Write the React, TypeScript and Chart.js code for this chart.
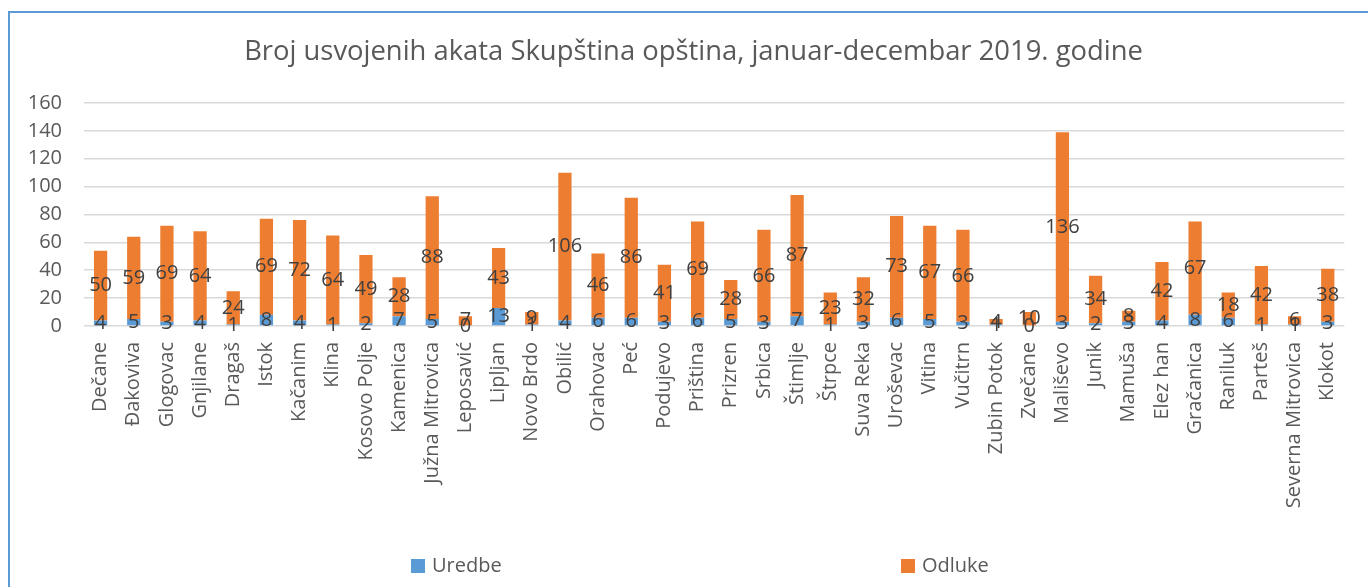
import React, { useEffect, useRef } from "react";
import { Chart, registerables } from "chart.js";

Chart.register(...registerables);

const categories = [
  "Dečane", "Đakoviva", "Glogovac", "Gnjilane", "Dragaš", "Istok", "Kačanim", "Klina",
  "Kosovo Polje", "Kamenica", "Južna Mitrovica", "Leposavić", "Lipljan", "Novo Brdo",
  "Obilić", "Orahovac", "Peć", "Podujevo", "Priština", "Prizren", "Srbica", "Štimlje",
  "Štrpce", "Suva Reka", "Uroševac", "Vitina", "Vučitrn", "Zubin Potok", "Zvečane",
  "Mališevo", "Junik", "Mamuša", "Elez han", "Gračanica", "Raniluk", "Parteš",
  "Severna Mitrovica", "Klokot",
];

const uredbe = [
  4, 5, 3, 4, 1, 8, 4, 1, 2, 7, 5, 0, 13, 1, 4, 6, 6, 3, 6, 5, 3, 7, 1, 3, 6, 5, 3, 1, 0,
  3, 2, 3, 4, 8, 6, 1, 1, 3,
];

const odluke = [
  50, 59, 69, 64, 24, 69, 72, 64, 49, 28, 88, 7, 43, 9, 106, 46, 86, 41, 69, 28, 66, 87,
  23, 32, 73, 67, 66, 4, 10, 136, 34, 8, 42, 67, 18, 42, 6, 38,
];

const yTickValues = [0, 20, 40, 60, 80, 100, 120, 140, 160];

const titleText = "Broj usvojenih akata Skupština opština, januar-decembar 2019. godine";
const seriesNames = ["Uredbe", "Odluke"];
const seriesColors = ["#5B9BD5", "#ED7D31"];

const FONT = "'Open Sans', 'Noto Sans', sans-serif";

const valueLabels = {
  id: "valueLabels",
  afterDatasetsDraw(chart: any) {
    const ctx = chart.ctx;
    ctx.save();
    ctx.font = `20px ${FONT}`;
    ctx.fillStyle = "#404040";
    ctx.textAlign = "center";
    ctx.textBaseline = "middle";
    chart.data.datasets.forEach((ds: any, di: number) => {
      const meta = chart.getDatasetMeta(di);
      if (meta.hidden || meta.yAxisID !== "y") return;
      meta.data.forEach((el: any, i: number) => {
        const yc = (el.y + el.base) / 2;
        ctx.fillText(String(ds.data[i]), el.x, yc);
      });
    });
    ctx.restore();
  },
};

const customLegend = {
  id: "customLegend",
  afterDraw(chart: any) {
    const ctx = chart.ctx;
    const starts = [411, 901];
    const yc = 566;
    ctx.save();
    ctx.font = `20px ${FONT}`;
    ctx.textBaseline = "middle";
    ctx.textAlign = "left";
    chart.data.datasets.forEach((ds: any, i: number) => {
      const x = starts[i];
      ctx.fillStyle = ds.backgroundColor;
      ctx.fillRect(x, yc - 7, 14, 14);
      ctx.fillStyle = "#595959";
      ctx.fillText(ds.label, x + 21, yc);
    });
    ctx.restore();
  },
};

export default function App() {
  const ref = useRef<HTMLCanvasElement | null>(null);

  useEffect(() => {
    if (!ref.current) return;
    const chart = new Chart(ref.current, {
      type: "bar",
      data: {
        labels: categories,
        datasets: [
          {
            label: seriesNames[0],
            data: uredbe,
            backgroundColor: seriesColors[0],
            barPercentage: 0.4,
            categoryPercentage: 1,
          },
          {
            label: seriesNames[1],
            data: odluke,
            backgroundColor: seriesColors[1],
            barPercentage: 0.4,
            categoryPercentage: 1,
          },
        ],
      },
      options: {
        animation: false,
        responsive: true,
        maintainAspectRatio: false,
        layout: { padding: { left: 19, right: 0, top: 0, bottom: 0 } },
        plugins: {
          legend: { display: false },
          tooltip: { enabled: false },
          title: {
            display: true,
            text: titleText,
            color: "#595959",
            font: { family: FONT, size: 27.4, weight: "normal" as any },
            padding: { top: 36.1, bottom: 34 },
          },
        },
        scales: {
          x: {
            stacked: true,
            grid: { display: false, drawTicks: false, tickLength: 0 },
            border: { display: false },
            ticks: {
              color: "#595959",
              font: { family: FONT, size: 20 },
              minRotation: 90,
              maxRotation: 90,
              autoSkip: false,
              padding: 16,
            },
            afterFit(scale: any) {
              scale.height = 261;
            },
          },
          y: {
            stacked: true,
            min: 0,
            max: 160,
            afterBuildTicks(scale: any) {
              scale.ticks = yTickValues.map((v) => ({ value: v }));
            },
            grid: { color: "#D9D9D9", lineWidth: 1.5, drawTicks: false, tickLength: 0 },
            border: { display: false },
            ticks: {
              color: "#595959",
              font: { family: FONT, size: 20 },
              padding: 22,
            },
            afterFit(scale: any) {
              scale.width = 65;
            },
          },
          yRight: {
            position: "right",
            display: true,
            grid: { display: false, drawTicks: false },
            border: { display: false },
            ticks: { display: false },
            afterFit(scale: any) {
              scale.width = 18;
            },
          },
        },
      },
      plugins: [valueLabels, customLegend],
    });
    return () => chart.destroy();
  }, []);

  return (
    <div
      style={{
        position: "absolute",
        left: 0,
        top: 0,
        width: 1368,
        height: 587,
        overflow: "hidden",
        background: "#fff",
      }}
    >
      <div
        style={{
          position: "absolute",
          left: 8,
          top: 11,
          width: 1360,
          height: 576,
          boxSizing: "border-box",
          borderLeft: "2px solid #5B9BD5",
          borderTop: "2px solid #5B9BD5",
        }}
      />
      <div style={{ position: "absolute", left: 0, top: 0, width: 1368, height: 587 }}>
        <canvas ref={ref} />
      </div>
    </div>
  );
}
